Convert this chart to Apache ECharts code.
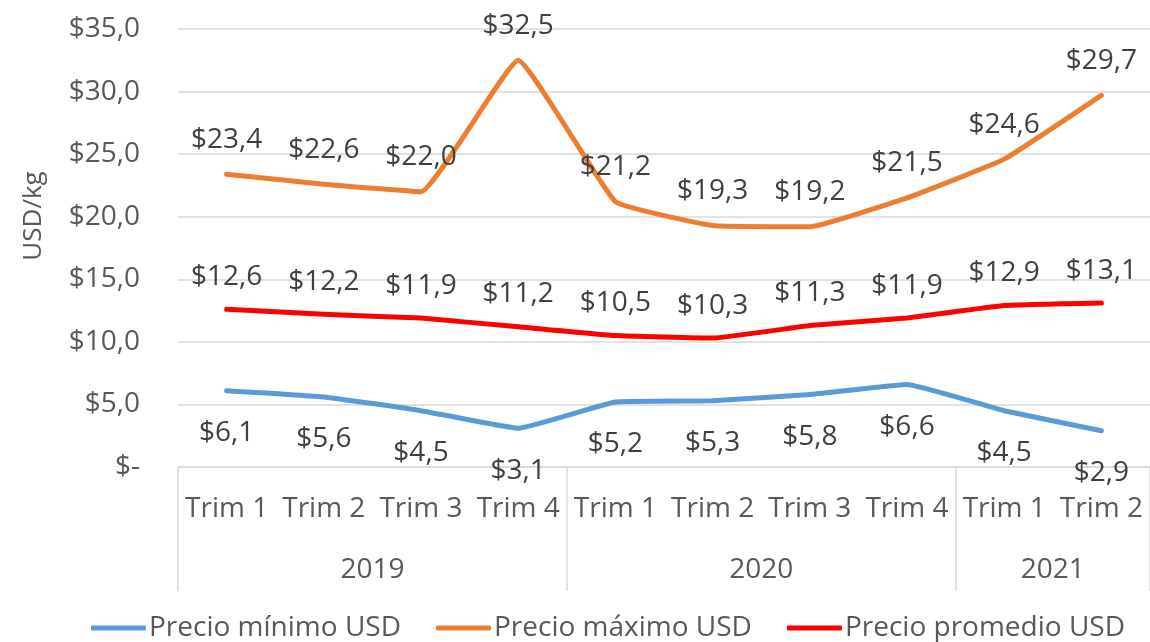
<!DOCTYPE html>
<html>
<head>
<meta charset="utf-8">
<script src="https://cdn.jsdelivr.net/npm/echarts@6/dist/echarts.min.js"></script>
<style>
  html, body { margin: 0; padding: 0; background: #fff; }
  #chart { width: 1150px; height: 642px; }
</style>
</head>
<body>
<div id="chart"></div>
<script>
const trimestres = ['Trim 1', 'Trim 2', 'Trim 3', 'Trim 4', 'Trim 1', 'Trim 2', 'Trim 3', 'Trim 4', 'Trim 1', 'Trim 2'];
const anios = ['2019', '2020', '2021'];
const trimPorAnio = [4, 4, 2];
const precioMinimo = [6.1, 5.6, 4.5, 3.1, 5.2, 5.3, 5.8, 6.6, 4.5, 2.9];
const precioMaximo = [23.4, 22.6, 22.0, 32.5, 21.2, 19.3, 19.2, 21.5, 24.6, 29.7];
const precioPromedio = [12.6, 12.2, 11.9, 11.2, 10.5, 10.3, 11.3, 11.9, 12.9, 13.1];

const FONT = '"Open Sans", sans-serif';
const gris = '#d9d9d9';

// limites y centros de cada año sobre el eje de categorias
const cortes = [0];
const centros = [];
trimPorAnio.forEach(n => {
  const ini = cortes[cortes.length - 1];
  centros.push(ini + n / 2);
  cortes.push(ini + n);
});

function dinero(v) {
  return '$' + Number(v).toFixed(1).replace('.', ',');
}

function serie(name, data, color, pos, dist) {
  return {
    name: name,
    type: 'line',
    data: data,
    smooth: 0.1,
    symbol: 'circle',
    symbolSize: 1,
    showSymbol: true,
    lineStyle: { color: color, width: 5, cap: 'round', join: 'round' },
    itemStyle: { color: color },
    label: {
      show: true,
      position: pos,
      distance: dist,
      formatter: p => dinero(p.value),
      fontFamily: FONT,
      fontSize: 28,
      color: '#404040'
    }
  };
}

const chart = echarts.init(document.getElementById('chart'));
chart.setOption({
  animation: false,
  textStyle: { fontFamily: FONT },
  grid: { left: 178, right: -4, top: 29, bottom: 175 },
  legend: {
    left: 86,
    top: 609,
    icon: 'roundRect',
    itemWidth: 55,
    itemHeight: 5,
    itemGap: 35,
    textStyle: { fontFamily: FONT, fontSize: 28, color: '#595959', padding: [0, 0, 0, -2] },
    data: ['Precio mínimo USD', 'Precio máximo USD', 'Precio promedio USD']
  },
  xAxis: [
    {
      type: 'category',
      data: trimestres,
      axisLine: { show: true, lineStyle: { color: gris, width: 1.5 } },
      axisTick: { show: false },
      axisLabel: { fontFamily: FONT, fontSize: 28, color: '#595959', margin: 28, interval: 0 }
    },
    {
      type: 'value',
      min: 0,
      max: trimestres.length,
      position: 'bottom',
      splitLine: { show: false },
      axisLine: { show: false },
      axisTick: {
        show: true,
        customValues: cortes,
        length: 124,
        lineStyle: { color: gris, width: 1.5 }
      },
      axisLabel: {
        customValues: centros,
        formatter: v => anios[centros.indexOf(v)],
        fontFamily: FONT,
        fontSize: 28,
        color: '#595959',
        margin: 89
      }
    }
  ],
  yAxis: {
    type: 'value',
    min: 0,
    max: 35,
    interval: 5,
    name: 'USD/kg',
    nameLocation: 'middle',
    nameRotate: 90,
    nameGap: 131,
    nameTextStyle: { fontFamily: FONT, fontSize: 26, color: '#595959', padding: [0, 0, 0, 64] },
    axisLine: { show: false },
    axisTick: { show: false },
    splitLine: { lineStyle: { color: gris, width: 1.5 } },
    axisLabel: {
      fontFamily: FONT,
      fontSize: 28,
      color: '#595959',
      margin: 38,
      formatter: v => v === 0 ? '$-' : dinero(v)
    }
  },
  series: [
    serie('Precio mínimo USD', precioMinimo, '#5b9bd5', 'bottom', 28),
    serie('Precio máximo USD', precioMaximo, '#ed7d31', 'top', 20),
    serie('Precio promedio USD', precioPromedio, '#ff0000', 'top', 18)
  ]
});
</script>
</body>
</html>
